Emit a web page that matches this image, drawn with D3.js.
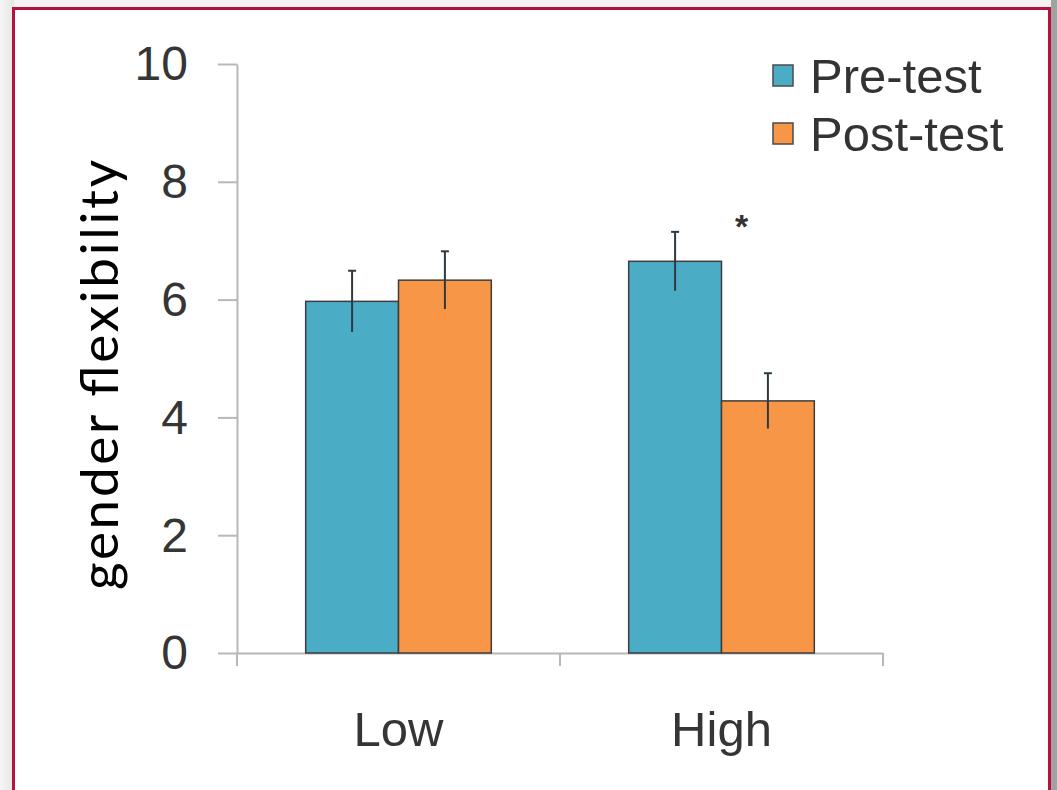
<!DOCTYPE html>
<html>
<head>
<meta charset="utf-8">
<script src="https://cdn.jsdelivr.net/npm/d3@7"></script>
<style>
  html, body { margin: 0; padding: 0; background: #f3f3f3; }
  svg { display: block; }
</style>
</head>
<body>
<svg id="chart" width="1057" height="790"></svg>
<script>
"use strict";

// data
var groups = ["Low", "High"];
var series = ["Pre-test", "Post-test"];
var preValues = [5.97, 6.65];
var postValues = [6.33, 4.28];
var preErrors = [0.52, 0.5];
var postErrors = [0.49, 0.47];
var yTicks = [0, 2, 4, 6, 8, 10];
var colors = ["#4bacc6", "#f79646"];

var svg = d3.select("#chart");

// frame round the picture
let defs = svg.append("defs");
let grad = defs.append("linearGradient").attr("id", "side").attr("x1", 0).attr("x2", 1);
grad.append("stop").attr("offset", 0).attr("stop-color", "#f6f6f6");
grad.append("stop").attr("offset", 1).attr("stop-color", "#e6e6e6");
svg.append("rect").attr("x", 0).attr("y", 0).attr("width", 14).attr("height", 790).attr("fill", "url(#side)");
svg.append("rect").attr("x", 1051).attr("y", 0).attr("width", 6).attr("height", 790).attr("fill", "#a2a2a2");
svg.append("rect")
  .attr("x", 13.5).attr("y", 8.5)
  .attr("width", 1036).attr("height", 800)
  .attr("fill", "#fff")
  .attr("stroke", "#b3133f")
  .attr("stroke-width", 3);

let yTop = 64, yBottom = 653, xLeft = 237, xRight = 883;

let x = d3.scaleBand().domain(groups).range([xLeft, xRight]),
  x1 = d3.scaleBand().domain(series).range([0, x.bandwidth()]).paddingOuter(0.74),
  y = d3.scaleLinear().domain([0, 10]).range([yBottom, yTop]);

let axisColor = "#b8b8b8";

// y axis
let yAxis = svg.append("g")
  .attr("transform", "translate(" + xLeft + ",0)")
  .call(d3.axisLeft(y).tickValues(yTicks).tickSize(19).tickPadding(30).tickSizeOuter(0));
yAxis.select(".domain").attr("stroke", axisColor).attr("stroke-width", 2);
yAxis.selectAll(".tick line").attr("stroke", axisColor).attr("stroke-width", 2);
yAxis.selectAll(".tick text")
  .attr("fill", "#353535")
  .style("font-family", "'Liberation Sans', Arial, sans-serif")
  .style("font-size", "48px")
  .attr("dy", "0.33em");

// x axis
let xAxis = svg.append("g")
  .attr("transform", "translate(0," + yBottom + ")")
  .call(d3.axisBottom(x).tickSize(0).tickPadding(83));
xAxis.select(".domain").attr("stroke", axisColor).attr("stroke-width", 2);
xAxis.selectAll(".tick text")
  .attr("fill", "#353535")
  .style("font-family", "'Liberation Sans', Arial, sans-serif")
  .style("font-size", "49px")
  .attr("dy", "0.2em");

// category boundary ticks
let bounds = [xLeft].concat(groups.map(function(g) { return x(g) + x.bandwidth(); }));
svg.append("g").selectAll("line")
  .data(bounds)
  .enter().append("line")
  .attr("x1", function(d) { return d; })
  .attr("x2", function(d) { return d; })
  .attr("y1", yBottom)
  .attr("y2", yBottom + 13)
  .attr("stroke", axisColor)
  .attr("stroke-width", 2);

// rows for the bars
let rows = [];
groups.forEach(function(g, i) {
  rows.push({group: g, key: series[0], value: preValues[i], err: preErrors[i], color: colors[0]});
  rows.push({group: g, key: series[1], value: postValues[i], err: postErrors[i], color: colors[1]});
});

svg.append("g").selectAll("rect")
  .data(rows)
  .enter().append("rect")
  .attr("x", function(d) { return x(d.group) + x1(d.key); })
  .attr("y", function(d) { return y(d.value); })
  .attr("width", x1.bandwidth())
  .attr("height", function(d) { return y(0) - y(d.value); })
  .attr("fill", function(d) { return d.color; })
  .attr("stroke", "#3d3d3d")
  .attr("stroke-width", 1.5);

// error bars
let err = svg.append("g").selectAll("g")
  .data(rows)
  .enter().append("g")
  .attr("transform", function(d) { return "translate(" + (x(d.group) + x1(d.key) + x1.bandwidth() / 2) + ",0)"; });

err.append("line")
  .attr("y1", function(d) { return y(d.value + d.err); })
  .attr("y2", function(d) { return y(d.value - d.err); })
  .attr("stroke", "#2e3a40")
  .attr("stroke-width", 2);

err.append("line")
  .attr("x1", -4).attr("x2", 4)
  .attr("y1", function(d) { return y(d.value + d.err); })
  .attr("y2", function(d) { return y(d.value + d.err); })
  .attr("stroke", "#2e3a40")
  .attr("stroke-width", 2);

// significance star over High
svg.append("text")
  .attr("x", x("High") + x1("Post-test") + 20)
  .attr("y", y(7.05))
  .attr("text-anchor", "middle")
  .attr("fill", "#333")
  .style("font-family", "'Liberation Sans', Arial, sans-serif")
  .style("font-weight", "bold")
  .style("font-size", "34px")
  .text("*");

// legend
let legend = svg.append("g").attr("transform", "translate(773,65)");
let item = legend.selectAll("g")
  .data(series)
  .enter().append("g")
  .attr("transform", function(d, i) { return "translate(0," + (i * 58) + ")"; });

item.append("rect")
  .attr("width", 20).attr("height", 21)
  .attr("fill", function(d, i) { return colors[i]; })
  .attr("stroke", "#4a4a4a")
  .attr("stroke-width", 1.5);

item.append("text")
  .attr("x", 37)
  .attr("y", 28)
  .attr("fill", "#333")
  .style("font-family", "'Liberation Sans', Arial, sans-serif")
  .style("font-size", "49px")
  .text(function(d) { return d; });

// y title
svg.append("text")
  .attr("transform", "translate(118,375) rotate(-90)")
  .attr("text-anchor", "middle")
  .attr("fill", "#000")
  .attr("textLength", 430)
  .attr("lengthAdjust", "spacing")
  .style("font-family", "Lato, 'Open Sans', sans-serif")
  .style("font-size", "53px")
  .text("gender flexibility");
</script>
</body>
</html>
